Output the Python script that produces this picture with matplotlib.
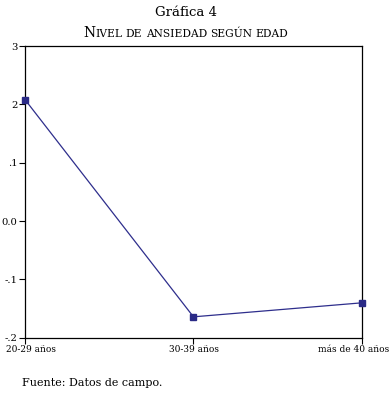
import matplotlib.pyplot as plt
import matplotlib.transforms as mtransforms

# Data
categorias = ["20-29 años", "30-39 años", "más de 40 años"]
ansiedad = [0.208, -0.164, -0.140]
yticks = [0.3, 0.2, 0.1, 0.0, -0.1, -0.2]
ytick_labels = ["3", "2", ".1", "0.0", "-.1", "-.2"]

plt.rcParams['font.family'] = ['DejaVu Serif']

fig = plt.figure(figsize=(3.92, 3.97), dpi=100)
ax = fig.add_axes([0.064, 0.149, 0.859, 0.735])

x = range(len(categorias))
ax.plot(x, ansiedad, color='#2e2e8c', linewidth=0.9,
        marker='s', markersize=5, markerfacecolor='#2a2a86', markeredgecolor='#2a2a86',
        clip_on=False, zorder=3)

ax.set_xlim(0, len(categorias) - 1)
ax.set_ylim(-0.2, 0.3)
ax.set_xticks(list(x))
ax.set_xticklabels(categorias, fontsize=6.5)
ax.set_yticks(yticks)
ax.set_yticklabels(ytick_labels, fontsize=7.2)
ax.tick_params(direction='out', length=4, width=0.8, pad=1.5, colors='black')
for s in ax.spines.values():
    s.set_linewidth(0.9)

# nudge the edge labels inward, as in the original
shifts = [6, 1, -8]
for lab, dx in zip(ax.get_xticklabels(), shifts):
    lab.set_transform(lab.get_transform() +
                      mtransforms.ScaledTranslation(dx / 100, 0, fig.dpi_scale_trans))

xc = 0.474  # title block is centred a bit left of the figure centre

# Title
fig.text(xc, 0.969, "Gráfica 4", ha='center', va='center', fontsize=9.5)

# Small-caps subtitle built from pieces
def small_caps(fig, words, xc, y, big=10.0, small=7.7):
    pieces = []
    for i, w in enumerate(words):
        if i > 0:
            pieces.append((" ", small))
        if i == 0:
            pieces.append((w[0], big))
            pieces.append((w[1:].upper(), small))
        else:
            pieces.append((w.upper(), small))
    r = fig.canvas.get_renderer()
    widths = []
    for t, sz in pieces:
        tmp = fig.text(0, 0, t, fontsize=sz)
        widths.append(tmp.get_window_extent(r).width)
        tmp.remove()
    total = sum(widths)
    xpix = fig.bbox.width * xc - total / 2
    for (t, sz), w in zip(pieces, widths):
        fig.text(xpix / fig.bbox.width, y, t, fontsize=sz, ha='left', va='baseline')
        xpix += w

small_caps(fig, ["Nivel", "de", "ansiedad", "según", "edad"], xc, 0.907)

fig.text(0.056, 0.035, "Fuente: Datos de campo.", fontsize=8, ha='left', va='center')

fig.savefig("out.png", dpi=100)
